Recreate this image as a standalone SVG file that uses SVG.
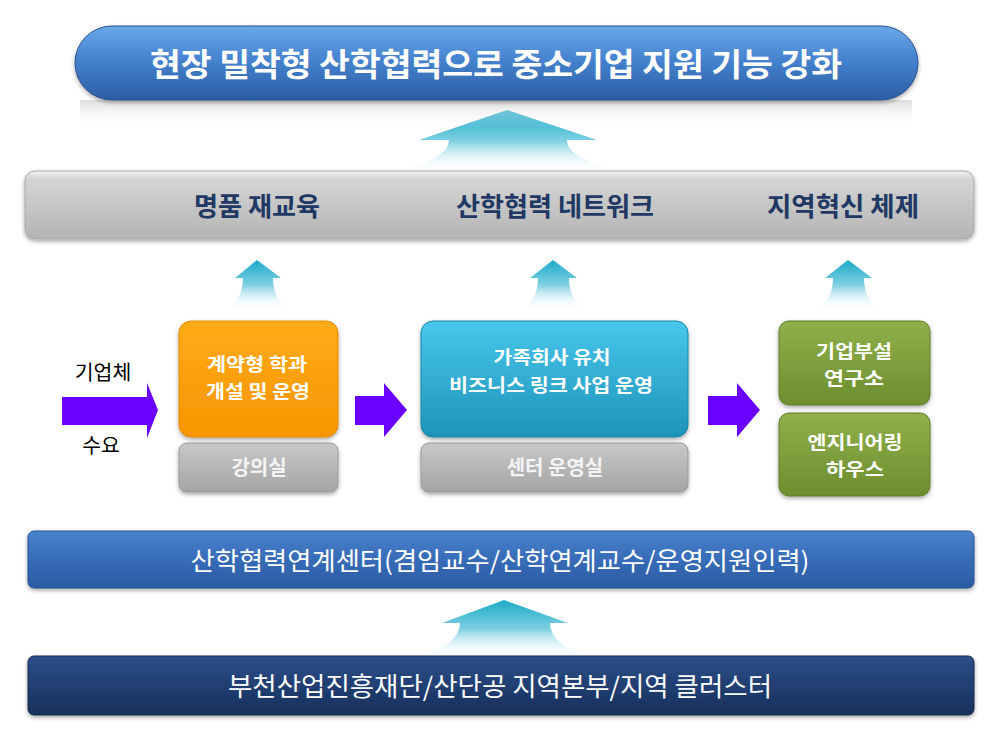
<svg xmlns="http://www.w3.org/2000/svg" width="1002" height="739" viewBox="0 0 1002 739">
<defs>
<style>
.t{font-family:"Noto Sans CJK KR","Noto Sans",sans-serif;text-anchor:middle}
.b{font-weight:bold}
.w{fill:#ffffff}
.navy{fill:#1f3864}
.lt{fill:#f4f4f4}
.blk{fill:#000000}
.purple{fill:#6a00ff}
</style>
<linearGradient id="gPill" x1="0" y1="0" x2="0" y2="1">
<stop offset="0" stop-color="#6aa8ea"/><stop offset="0.45" stop-color="#4683cf"/><stop offset="1" stop-color="#2b5da3"/>
</linearGradient>
<linearGradient id="gGrayBar" x1="0" y1="0" x2="0" y2="1">
<stop offset="0" stop-color="#f2f2f2"/><stop offset="0.12" stop-color="#d4d4d4"/><stop offset="1" stop-color="#b4b4b4"/>
</linearGradient>
<linearGradient id="gOrange" x1="0" y1="0" x2="0" y2="1">
<stop offset="0" stop-color="#ffab1a"/><stop offset="1" stop-color="#f79500"/>
</linearGradient>
<linearGradient id="gCyan" x1="0" y1="0" x2="0" y2="1">
<stop offset="0" stop-color="#48c6ec"/><stop offset="1" stop-color="#1e93b8"/>
</linearGradient>
<linearGradient id="gGreen" x1="0" y1="0" x2="0" y2="1">
<stop offset="0" stop-color="#8fb04a"/><stop offset="1" stop-color="#6d8e2f"/>
</linearGradient>
<linearGradient id="gSmallGray" x1="0" y1="0" x2="0" y2="1">
<stop offset="0" stop-color="#c8c8c8"/><stop offset="1" stop-color="#a4a4a4"/>
</linearGradient>
<linearGradient id="gBlueBar" x1="0" y1="0" x2="0" y2="1">
<stop offset="0" stop-color="#4a82cc"/><stop offset="0.5" stop-color="#376cb7"/><stop offset="1" stop-color="#2a5ba2"/>
</linearGradient>
<linearGradient id="gNavyBar" x1="0" y1="0" x2="0" y2="1">
<stop offset="0" stop-color="#2c4f88"/><stop offset="0.5" stop-color="#213f72"/><stop offset="1" stop-color="#182f5a"/>
</linearGradient>
<linearGradient id="gUp" x1="0" y1="0" x2="0" y2="1">
<stop offset="0" stop-color="#1aaac8"/><stop offset="0.5" stop-color="#7fd0e2"/><stop offset="1" stop-color="#ffffff" stop-opacity="0"/>
</linearGradient>
<linearGradient id="gRefl" x1="0" y1="0" x2="0" y2="1">
<stop offset="0" stop-color="#d0d0d0" stop-opacity="0.7"/><stop offset="1" stop-color="#ffffff" stop-opacity="0"/>
</linearGradient>
<filter id="sh" x="-5%" y="-20%" width="110%" height="150%">
<feDropShadow dx="0" dy="2" stdDeviation="2" flood-color="#000000" flood-opacity="0.35"/>
</filter>
</defs>
<rect width="1002" height="739" fill="#ffffff"/>

<g id="connectors">
<path d="M507,110 L419,140 L449,140 Q449,160 391,172 L627,172 Q567,160 567,140 L597,140 Z" fill="url(#gUp)"/>
<path d="M257,260 L235,278 L243,278 Q243,300 225,310 L290,310 Q273,300 273,278 L281,278 Z" fill="url(#gUp)"/>
<path d="M553,260 L530,278 L538,278 Q538,300 521,310 L586,310 Q569,300 569,278 L577,278 Z" fill="url(#gUp)"/>
<path d="M848,260 L825,278 L833,278 Q833,300 816,310 L881,310 Q864,300 864,278 L872,278 Z" fill="url(#gUp)"/>
<path d="M504,600 L442,623 L460,623 Q460,645 416,658 L592,658 Q550,645 550,623 L568,623 Z" fill="url(#gUp)"/>
<path class="purple" d="M62,397 L147,397 L147,383 L158,410 L147,438 L147,425 L62,425 Z"/>
<path class="purple" d="M355,396 L384,396 L384,383 L407,410 L384,437 L384,425 L355,425 Z"/>
<path class="purple" d="M708,396 L737,396 L737,383 L760,410 L737,437 L737,425 L708,425 Z"/>
</g>

<g id="title">
<rect x="80" y="100" width="832" height="28" fill="url(#gRefl)"/>
<rect x="75" y="26" width="843" height="74" rx="37" fill="url(#gPill)" stroke="#2a5290" stroke-width="1" filter="url(#sh)"/>
<text class="t b w" x="496" y="76" font-size="32" textLength="692" lengthAdjust="spacingAndGlyphs">현장 밀착형 산학협력으로 중소기업 지원 기능 강화</text>
</g>

<g id="goals">
<rect x="25" y="171" width="949" height="68" rx="10" fill="url(#gGrayBar)" stroke="#a8a8a8" stroke-width="1" filter="url(#sh)"/>
<text class="t b navy" x="257" y="216" font-size="26" textLength="126" lengthAdjust="spacingAndGlyphs">명품 재교육</text>
<text class="t b navy" x="555" y="216" font-size="26" textLength="198" lengthAdjust="spacingAndGlyphs">산학협력 네트워크</text>
<text class="t b navy" x="843" y="216" font-size="26" textLength="152" lengthAdjust="spacingAndGlyphs">지역혁신 체제</text>
</g>

<g id="demand">
<text class="t blk" x="103" y="380" font-size="20.5">기업체</text>
<text class="t blk" x="101" y="453" font-size="20.5">수요</text>
</g>

<g id="node-contract">
<rect x="179" y="321" width="159" height="116" rx="12" fill="url(#gOrange)" stroke="#e48c00" stroke-width="1" filter="url(#sh)"/>
<text class="t b w" x="257" y="371" font-size="18" textLength="100" lengthAdjust="spacingAndGlyphs">계약형 학과</text>
<text class="t b w" x="258" y="397.5" font-size="18" textLength="104" lengthAdjust="spacingAndGlyphs">개설 및 운영</text>
</g>
<g id="node-lecture">
<rect x="179" y="443" width="159" height="49" rx="8" fill="url(#gSmallGray)" stroke="#999999" stroke-width="1" filter="url(#sh)"/>
<text class="t b lt" x="259" y="475" font-size="20">강의실</text>
</g>

<g id="node-family">
<rect x="421" y="321" width="267" height="116" rx="12" fill="url(#gCyan)" stroke="#1a86a8" stroke-width="1" filter="url(#sh)"/>
<text class="t b w" x="552" y="364" font-size="18" textLength="117" lengthAdjust="spacingAndGlyphs">가족회사 유치</text>
<text class="t b w" x="551" y="391.5" font-size="18" textLength="204" lengthAdjust="spacingAndGlyphs">비즈니스 링크 사업 운영</text>
</g>
<g id="node-center-room">
<rect x="421" y="443" width="267" height="49" rx="8" fill="url(#gSmallGray)" stroke="#999999" stroke-width="1" filter="url(#sh)"/>
<text class="t b lt" x="555" y="475" font-size="20">센터 운영실</text>
</g>

<g id="node-lab">
<rect x="779" y="321" width="151" height="84" rx="10" fill="url(#gGreen)" stroke="#5f7d28" stroke-width="1" filter="url(#sh)"/>
<text class="t b w" x="854" y="358" font-size="18" textLength="76" lengthAdjust="spacingAndGlyphs">기업부설</text>
<text class="t b w" x="854" y="384.5" font-size="18" textLength="60" lengthAdjust="spacingAndGlyphs">연구소</text>
</g>
<g id="node-eng">
<rect x="779" y="413" width="151" height="83" rx="10" fill="url(#gGreen)" stroke="#5f7d28" stroke-width="1" filter="url(#sh)"/>
<text class="t b w" x="855" y="449" font-size="18" textLength="95" lengthAdjust="spacingAndGlyphs">엔지니어링</text>
<text class="t b w" x="855" y="475.5" font-size="18" textLength="58" lengthAdjust="spacingAndGlyphs">하우스</text>
</g>

<g id="node-liaison">
<rect x="28" y="531" width="946" height="57" rx="6" fill="url(#gBlueBar)" stroke="#24508f" stroke-width="1" filter="url(#sh)"/>
<text class="t w" x="500" y="570" font-size="25" textLength="619" lengthAdjust="spacingAndGlyphs">산학협력연계센터(겸임교수/산학연계교수/운영지원인력)</text>
</g>

<g id="node-base">
<rect x="28" y="656" width="946" height="59" rx="6" fill="url(#gNavyBar)" stroke="#142a50" stroke-width="1" filter="url(#sh)"/>
<text class="t w" x="500" y="696" font-size="26" textLength="544" lengthAdjust="spacingAndGlyphs">부천산업진흥재단/산단공 지역본부/지역 클러스터</text>
</g>
</svg>
